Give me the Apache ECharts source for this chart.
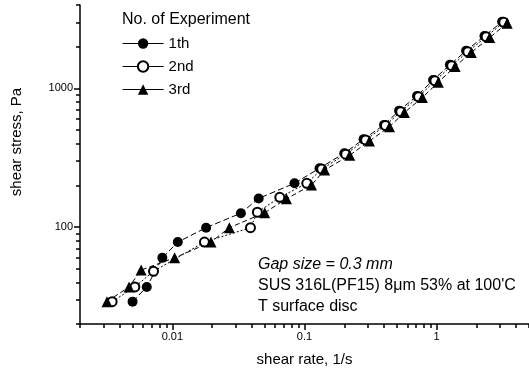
<!DOCTYPE html>
<html>
<head>
<meta charset="utf-8">
<script src="https://cdn.jsdelivr.net/npm/echarts@6/dist/echarts.min.js"></script>
<style>
  html, body { margin: 0; padding: 0; background: #fff; }
  #chart { width: 529px; height: 376px; }
</style>
</head>
<body>
<div id="chart"></div>
<script>
// shear rate (1/s) and shear stress (Pa)
var rate1 = [0.0050, 0.0064, 0.0084, 0.011, 0.018, 0.033, 0.045, 0.084, 0.13, 0.20, 0.28, 0.40, 0.52, 0.71, 0.94, 1.26, 1.67, 2.30, 3.13]
var stress1 = [29, 37, 60, 78, 99, 126, 161, 207, 266, 341, 431, 546, 692, 883, 1150, 1480, 1870, 2390, 3030]

var rate2 = [0.0035, 0.0052, 0.0072, 0.0175, 0.039, 0.044, 0.065, 0.104, 0.135, 0.205, 0.29, 0.41, 0.535, 0.73, 0.97, 1.30, 1.72, 2.37, 3.22]
var stress2 = [29, 37, 48, 78, 99, 128, 164, 207, 262, 336, 425, 540, 680, 870, 1135, 1460, 1840, 2360, 3000]

var rate3 = [0.0032, 0.0047, 0.0058, 0.0104, 0.0196, 0.027, 0.050, 0.073, 0.113, 0.142, 0.22, 0.31, 0.44, 0.57, 0.78, 1.03, 1.38, 1.83, 2.52, 3.42]
var stress3 = [29, 37, 49, 60, 78, 99, 127, 160, 201, 258, 330, 418, 530, 670, 860, 1110, 1440, 1820, 2330, 2960]

var seriesNames = ['1th', '2nd', '3rd']

var xMinorTicks = [0.002, 0.003, 0.004, 0.005, 0.006, 0.007, 0.008, 0.009,
  0.02, 0.03, 0.04, 0.05, 0.06, 0.07, 0.08, 0.09,
  0.2, 0.3, 0.4, 0.5, 0.6, 0.7, 0.8, 0.9, 2, 3, 4, 5]
var xMajorTicks = [0.01, 0.1, 1]
var xTickLabels = ['0.01', '0.1', '1']

var yMinorTicks = [20, 30, 40, 50, 60, 70, 80, 90,
  200, 300, 400, 500, 600, 700, 800, 900, 2000, 3000, 4000]
var yMajorTicks = [100, 1000]
var yTickLabels = ['100', '1000']

var font = 'Liberation Sans, Arial, sans-serif'

function pairs(xs, ys) {
  return xs.map(function (x, i) { return [x, ys[i]] })
}

function logAxis(min, max, ticks, tickLen, labels, labelTexts, showLine, extra) {
  var axis = {
    type: 'log',
    logBase: 10,
    min: min,
    max: max,
    splitLine: { show: false },
    axisLine: { show: showLine, onZero: false, lineStyle: { color: '#000', width: 1.5 } },
    axisTick: { show: true, customValues: ticks, length: tickLen, lineStyle: { color: '#000', width: 1.5 } },
    axisLabel: { show: !!labels, color: '#000', fontSize: 11, fontFamily: font, margin: 7 }
  }
  if (labels) {
    axis.axisLabel.customValues = labels
    axis.axisLabel.formatter = function (v) {
      for (var i = 0; i < labels.length; i++) {
        if (Math.abs(Math.log10(v) - Math.log10(labels[i])) < 1e-6) return labelTexts[i]
      }
      return ''
    }
  }
  for (var k in extra) axis[k] = extra[k]
  return axis
}

var chart = echarts.init(document.getElementById('chart'))

chart.setOption({
  backgroundColor: '#fff',
  animation: false,
  grid: { left: 80, right: 0, top: 5, bottom: 52 },
  xAxis: [
    logAxis(0.002, 5, xMinorTicks, 4, null, null, true, {
      position: 'bottom',
      name: 'shear rate, 1/s',
      nameLocation: 'middle',
      nameGap: 28,
      nameTextStyle: { color: '#000', fontSize: 15, fontFamily: font }
    }),
    logAxis(0.002, 5, xMajorTicks, 6, xMajorTicks, xTickLabels, false, { position: 'bottom' })
  ],
  yAxis: [
    logAxis(20, 4000, yMinorTicks, 4, null, null, true, { position: 'left' }),
    logAxis(20, 4000, yMajorTicks, 6, yMajorTicks, yTickLabels, false, { position: 'left' })
  ],
  legend: {
    orient: 'vertical',
    left: 122,
    top: 36,
    padding: 0,
    itemWidth: 41,
    itemHeight: 13,
    itemGap: 8,
    data: seriesNames,
    lineStyle: { type: 'solid', width: 1.2 },
    textStyle: { color: '#000', fontSize: 15, fontFamily: font }
  },
  graphic: [
    {
      type: 'text', x: 17, y: 142, rotation: Math.PI / 2,
      style: { text: 'shear stress, Pa', fill: '#000', font: '15px ' + font, align: 'center', verticalAlign: 'middle' }
    },
    {
      type: 'text', left: 122, top: 12,
      style: { text: 'No. of Experiment', fill: '#000', font: '16px ' + font }
    },
    {
      type: 'text', left: 258, top: 257,
      style: { text: 'Gap size = 0.3 mm', fill: '#000', font: 'italic 16px ' + font }
    },
    {
      type: 'text', left: 258, top: 278,
      style: { text: 'SUS 316L(PF15) 8\u03bcm 53% at 100\'C', fill: '#000', font: '16px ' + font }
    },
    {
      type: 'text', left: 258, top: 299,
      style: { text: 'T surface disc', fill: '#000', font: '16px ' + font }
    }
  ],
  series: [
    {
      name: seriesNames[0],
      type: 'line',
      data: pairs(rate1, stress1),
      symbol: 'circle',
      symbolSize: 10,
      itemStyle: { color: '#000' },
      lineStyle: { color: '#000', width: 1, type: [6, 3] }
    },
    {
      name: seriesNames[1],
      type: 'line',
      data: pairs(rate2, stress2),
      symbol: 'emptyCircle',
      symbolSize: 9,
      itemStyle: { color: '#000', borderWidth: 1.5 },
      lineStyle: { color: '#000', width: 1, type: [2, 2] }
    },
    {
      name: seriesNames[2],
      type: 'line',
      data: pairs(rate3, stress3),
      symbol: 'triangle',
      symbolSize: 11,
      itemStyle: { color: '#000' },
      lineStyle: { color: '#000', width: 1, type: [5, 3] }
    }
  ]
})
</script>
</body>
</html>
